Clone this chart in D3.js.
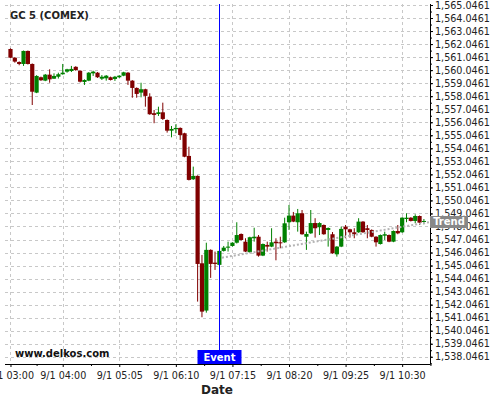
<!DOCTYPE html>
<html>
<head>
<meta charset="utf-8">
<script src="https://cdn.jsdelivr.net/npm/d3@7"></script>
<style>
  body { margin: 0; background: #fff; }
  svg { display: block; font-family: "DejaVu Sans", sans-serif; }
</style>
</head>
<body>
<script>
// 5 minute candles starting 9/1 03:00
var startTime = new Date(2019, 8, 1, 3, 0);
var barMinutes = 5;

var openPrices = [1561.67,1561.00,1560.67,1560.52,1561.52,1560.52,1558.32,1559.50,1559.24,1559.70,
  1559.39,1559.54,1559.73,1559.93,1559.98,1560.30,1560.00,1559.14,1559.24,1559.80,
  1559.85,1559.39,1559.42,1559.50,1559.37,1559.50,1559.62,1559.85,1559.24,1558.68,
  1558.32,1558.58,1558.01,1556.74,1556.68,1556.81,1556.22,1555.40,1555.51,1555.61,
  1555.20,1553.46,1551.67,1551.93,1545.22,1541.59,1546.25,1545.27,1545.10,1546.17,
  1546.42,1546.55,1546.80,1547.47,1546.88,1546.07,1547.14,1547.26,1545.81,1546.63,
  1546.50,1546.88,1546.83,1546.83,1548.37,1548.88,1548.37,1549.06,1547.26,1547.52,
  1548.31,1547.99,1548.16,1547.78,1547.45,1545.91,1546.50,1548.03,1547.83,1547.60,
  1547.60,1548.42,1547.91,1547.78,1547.26,1546.70,1547.34,1547.39,1546.88,1547.70,
  1547.60,1548.62,1548.72,1548.47,1548.85,1548.39];
var highPrices = [1561.72,1561.05,1560.72,1561.55,1561.55,1560.56,1559.66,1559.55,1559.75,1560.11,
  1559.80,1559.85,1560.52,1560.15,1560.37,1560.35,1560.03,1559.34,1559.90,1560.00,
  1559.90,1559.67,1559.67,1559.55,1559.60,1559.66,1559.92,1559.90,1559.28,1558.72,
  1559.08,1558.62,1558.27,1556.99,1557.24,1557.55,1556.26,1555.76,1555.89,1555.65,
  1555.24,1554.17,1552.64,1551.97,1545.86,1546.80,1546.29,1546.12,1546.20,1546.55,
  1546.88,1546.84,1548.37,1547.51,1547.14,1547.26,1547.95,1547.39,1546.74,1546.88,
  1547.91,1547.14,1547.26,1548.72,1549.70,1549.16,1549.39,1549.31,1547.65,1549.31,
  1548.68,1548.37,1548.20,1547.97,1547.62,1546.54,1548.03,1548.16,1547.87,1547.91,
  1548.68,1548.46,1548.16,1547.82,1547.30,1547.43,1547.65,1547.43,1547.74,1548.16,
  1548.76,1549.06,1548.76,1548.98,1548.89,1548.62];
var lowPrices = [1560.98,1560.62,1560.42,1560.37,1560.48,1557.37,1558.28,1559.22,1559.20,1559.08,
  1559.37,1559.40,1559.70,1559.85,1559.90,1560.00,1559.10,1558.91,1559.20,1559.60,
  1559.45,1559.29,1559.24,1559.25,1559.22,1559.45,1559.58,1558.91,1557.93,1557.93,
  1557.96,1557.24,1556.62,1555.97,1556.53,1556.22,1555.25,1554.89,1555.20,1554.69,
  1553.36,1551.58,1551.62,1542.28,1541.08,1541.43,1544.10,1544.71,1545.05,1546.12,
  1546.12,1546.50,1546.74,1546.97,1546.08,1546.03,1546.88,1545.73,1545.77,1546.12,
  1546.46,1545.45,1546.37,1546.79,1547.78,1548.38,1547.65,1547.41,1546.25,1547.48,
  1547.19,1547.39,1547.41,1546.50,1545.95,1545.73,1546.46,1547.14,1547.19,1547.14,
  1547.56,1547.56,1547.14,1547.22,1546.50,1546.66,1547.01,1546.84,1546.84,1547.45,
  1547.56,1548.37,1548.43,1548.29,1548.16,1548.21];
var closePrices = [1561.00,1560.70,1560.52,1561.52,1560.52,1558.39,1559.60,1559.27,1559.70,1559.34,
  1559.60,1559.73,1559.85,1560.11,1560.14,1560.05,1559.16,1559.29,1559.85,1559.93,
  1559.50,1559.54,1559.62,1559.29,1559.54,1559.62,1559.88,1559.24,1558.68,1558.22,
  1558.58,1558.07,1556.66,1556.61,1556.81,1556.30,1555.40,1555.53,1555.61,1555.07,
  1553.40,1551.62,1551.93,1545.17,1541.51,1546.25,1545.17,1545.17,1546.17,1546.42,
  1546.50,1546.80,1547.39,1547.01,1546.12,1547.22,1547.26,1545.81,1546.70,1546.50,
  1546.83,1546.76,1546.78,1548.29,1548.88,1548.42,1549.06,1547.45,1547.47,1548.31,
  1547.91,1548.31,1547.45,1547.93,1545.99,1546.50,1547.86,1547.83,1547.60,1547.45,
  1548.42,1547.60,1547.78,1547.26,1546.83,1547.39,1547.45,1546.88,1547.70,1547.52,
  1548.72,1548.72,1548.47,1548.85,1548.34,1548.47];

var tickTimes = ["03:00","04:00","05:05","06:10","07:15","08:20","09:25","10:30"];
var priceTicks = d3.range(1538.0461, 1565.05, 1);

var eventTime = "07:00";
var trendStart = {time: "07:03", price: 1545.65};
var trendEnd = {time: "11:02", price: 1548.39};

function atTime(s) {
  var p = s.split(":");
  return new Date(2019, 8, 1, +p[0], +p[1]);
}

var data = openPrices.map(function(d, i) {
  return {
    date: d3.timeMinute.offset(startTime, i * barMinutes),
    open: d, high: highPrices[i], low: lowPrices[i], close: closePrices[i]
  };
});

var width = 500, height = 400;
var plotLeft = 5, plotRight = 430, plotTop = 4, plotBottom = 364;

var svg = d3.select("body").append("svg")
  .attr("width", width)
  .attr("height", height);

svg.append("rect").attr("width", width).attr("height", height).attr("fill", "#fff");

var x = d3.scaleTime()
  .domain([d3.timeSecond.offset(startTime, -378), atTime("11:02")])
  .range([plotLeft, plotRight]);

var y = d3.scaleLinear()
  .domain([1537.49, 1565.123])
  .range([plotBottom, plotTop]);

var majorX = tickTimes.map(atTime);
var minorX = [];
for (var k = 0; k < majorX.length; k++) {
  var a = majorX[k], b = majorX[k + 1] || d3.timeMinute.offset(a, 65);
  minorX.push(new Date((+a + +b) / 2));
}

// grid
var grid = svg.append("g");
grid.selectAll(".hg").data(priceTicks).join("line")
  .attr("x1", plotLeft).attr("x2", plotRight)
  .attr("y1", d => Math.round(y(d)) + 0.5).attr("y2", d => Math.round(y(d)) + 0.5)
  .attr("stroke", "#c8c8c8").attr("stroke-dasharray", "3,3");
grid.selectAll(".vg").data(majorX).join("line")
  .attr("x1", d => Math.round(x(d)) + 0.5).attr("x2", d => Math.round(x(d)) + 0.5)
  .attr("y1", plotTop).attr("y2", plotBottom)
  .attr("stroke", "#c8c8c8").attr("stroke-dasharray", "3,3");

// candles
var bw = 4.2;
var candles = svg.append("g").selectAll("g").data(data).join("g");
candles.append("line")
  .attr("x1", d => x(d.date)).attr("x2", d => x(d.date))
  .attr("y1", d => y(d.high)).attr("y2", d => y(d.low))
  .attr("stroke", d => d.close >= d.open ? "#008000" : "#800000")
  .attr("stroke-width", 1);
candles.append("rect")
  .attr("x", d => x(d.date) - bw / 2)
  .attr("width", bw)
  .attr("y", d => y(Math.max(d.open, d.close)))
  .attr("height", d => Math.max(1, Math.abs(y(d.open) - y(d.close))))
  .attr("fill", d => d.close >= d.open ? "#008000" : "#800000");

// trend line
svg.append("line")
  .attr("x1", x(atTime(trendStart.time))).attr("y1", y(trendStart.price))
  .attr("x2", x(atTime(trendEnd.time))).attr("y2", y(trendEnd.price))
  .attr("stroke", "#b4b4b4").attr("stroke-width", 2)
  .attr("stroke-dasharray", "2,2");

// event marker
var ex = Math.round(x(atTime(eventTime))) + 0.5;
svg.append("line")
  .attr("x1", ex).attr("x2", ex).attr("y1", plotTop).attr("y2", 350)
  .attr("stroke", "#0000ff");
svg.append("rect")
  .attr("x", ex - 22).attr("y", 350).attr("width", 44).attr("height", 14)
  .attr("fill", "#0000ff");
svg.append("text")
  .attr("x", ex).attr("y", 361)
  .attr("text-anchor", "middle")
  .attr("fill", "#fff").attr("font-weight", "bold").attr("font-size", 10)
  .text("Event");

// right axis
var yAxis = svg.append("g")
  .attr("transform", "translate(" + plotRight + ",0)")
  .call(d3.axisRight(y).tickValues(priceTicks).tickFormat(d3.format(",.4f")).tickSize(3).tickPadding(2));
yAxis.selectAll("text").attr("font-size", 9.6).attr("fill", "#222").attr("font-family", "DejaVu Sans");
yAxis.select(".domain").attr("d", "M0.5," + plotTop + "V" + plotBottom);
svg.append("g")
  .attr("transform", "translate(" + plotRight + ",0)")
  .call(d3.axisRight(y).tickValues(d3.range(1537.5461, 1565.05, 0.5)).tickFormat("").tickSize(2))
  .select(".domain").remove();

// bottom axis
var fmt = d3.timeFormat("%-m/%-d %H:%M");
var xAxis = svg.append("g")
  .attr("transform", "translate(0," + plotBottom + ")")
  .call(d3.axisBottom(x).tickValues(majorX).tickFormat(fmt).tickSize(3).tickPadding(5));
xAxis.selectAll("text").attr("font-size", 9.6).attr("fill", "#222").attr("font-family", "DejaVu Sans");
xAxis.select(".domain").attr("d", "M" + plotLeft + ",0.5H" + (plotRight + 0.5));
svg.append("g")
  .attr("transform", "translate(0," + plotBottom + ")")
  .call(d3.axisBottom(x).tickValues(minorX).tickFormat("").tickSize(2))
  .select(".domain").remove();

// labels
svg.append("text")
  .attr("x", 217).attr("y", 394)
  .attr("text-anchor", "middle")
  .attr("font-weight", "bold").attr("font-size", 12).attr("fill", "#222")
  .text("Date");

svg.append("text")
  .attr("x", 10).attr("y", 19)
  .attr("font-weight", "bold").attr("font-size", 10).attr("fill", "#222")
  .text("GC 5 (COMEX)");

svg.append("text")
  .attr("x", 15).attr("y", 357)
  .attr("font-weight", "bold").attr("font-size", 10).attr("fill", "#111")
  .text("www.delkos.com");

// trend tag
var ty = y(trendEnd.price);
svg.append("rect")
  .attr("x", plotRight).attr("y", ty - 6).attr("width", 38).attr("height", 12)
  .attr("fill", "#888");
svg.append("text")
  .attr("x", plotRight + 19).attr("y", ty + 3.5)
  .attr("text-anchor", "middle")
  .attr("fill", "#fff").attr("font-weight", "bold").attr("font-size", 10)
  .text("Trend");
</script>
</body>
</html>
